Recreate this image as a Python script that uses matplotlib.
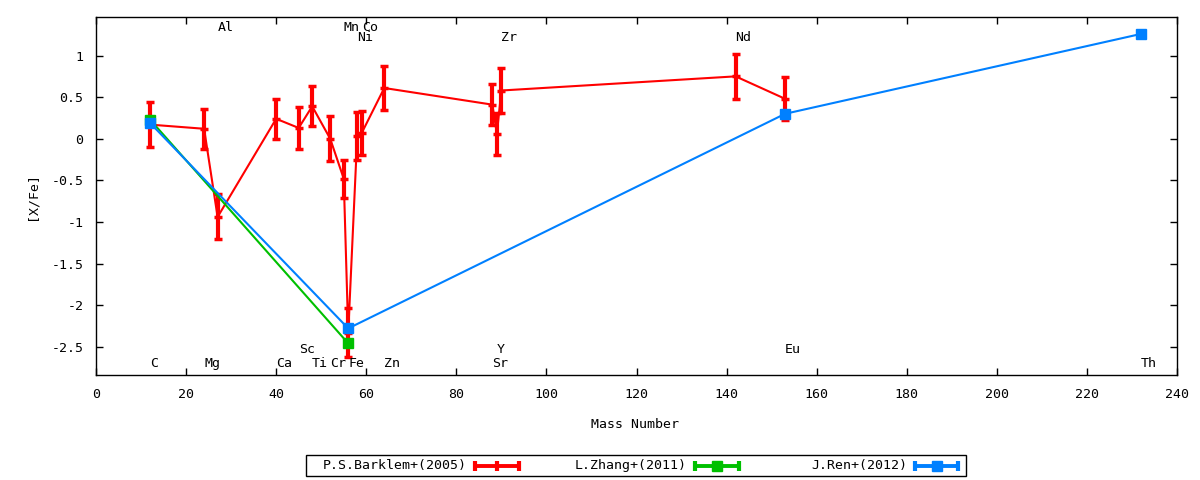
import matplotlib
matplotlib.use('Agg')
import matplotlib.pyplot as plt
from matplotlib.patches import Rectangle

plt.rcParams['font.family'] = ['DejaVu Sans Mono']
plt.rcParams['font.size'] = 9.5

# element labels: name, mass number, y position of the label
elem_names = ['C', 'Mg', 'Al', 'Ca', 'Sc', 'Ti', 'Cr', 'Mn', 'Fe', 'Co', 'Ni', 'Zn',
              'Sr', 'Y', 'Zr', 'Nd', 'Eu', 'Th']
elem_mass = [12, 24, 27, 40, 45, 48, 52, 55, 56, 59, 58, 64, 88, 89, 90, 142, 153, 232]
elem_label_y = [-2.70, -2.70, 1.34, -2.70, -2.53, -2.70, -2.70, 1.34, -2.70, 1.34, 1.22,
                -2.70, -2.70, -2.53, 1.22, 1.22, -2.53, -2.70]

# P.S.Barklem+(2005)
barklem_mass = [12, 24, 27, 40, 45, 48, 52, 55, 56, 58, 59, 64, 88, 89, 90, 142, 153]
barklem_xfe = [0.17, 0.12, -0.94, 0.24, 0.13, 0.39, 0.0, -0.48, -2.33, 0.03, 0.07, 0.61,
               0.41, 0.06, 0.58, 0.75, 0.48]
barklem_err = [0.27, 0.24, 0.27, 0.24, 0.25, 0.24, 0.27, 0.23, 0.29, 0.29, 0.26, 0.26,
               0.25, 0.25, 0.27, 0.27, 0.26]

# L.Zhang+(2011)
zhang_mass = [12, 56]
zhang_xfe = [0.23, -2.46]

# J.Ren+(2012)
ren_mass = [12, 56, 153, 232]
ren_xfe = [0.19, -2.28, 0.30, 1.26]

RED = '#ff0000'
GREEN = '#00c000'
BLUE = '#0080ff'

fig = plt.figure(figsize=(12, 4.8), dpi=100)
ax = fig.add_axes([96 / 1200, 1 - 375 / 480, (1177 - 96) / 1200, (375 - 17.3) / 480])

ax.errorbar(barklem_mass, barklem_xfe, yerr=barklem_err, color=RED, lw=1.5,
            elinewidth=3, capsize=3, capthick=2.5, marker='_', ms=6, mew=2.5, zorder=2)
ax.plot(zhang_mass, zhang_xfe, color=GREEN, lw=1.5, marker='s', ms=7, zorder=3)
ax.plot(ren_mass, ren_xfe, color=BLUE, lw=1.5, marker='s', ms=7.5, zorder=4)

for name, m, ly in zip(elem_names, elem_mass, elem_label_y):
    ax.text(m, ly, name, ha='left', va='center', fontsize=9.5)

ax.set_xlim(0, 240)
ax.set_ylim(-2.84, 1.46)
ax.set_xticks(range(0, 241, 20))
yt = [1, 0.5, 0, -0.5, -1, -1.5, -2, -2.5]
ax.set_yticks(yt)
ax.set_yticklabels(['%g' % v for v in yt])
ax.tick_params(direction='in', length=5, width=1, top=True, right=True, colors='black')
ax.tick_params(axis='x', pad=9)
ax.tick_params(axis='y', pad=9)
for s in ax.spines.values():
    s.set_linewidth(1)

fig.text(635 / 1200, 1 - 425 / 480, 'Mass Number', ha='center', va='center')
fig.text(32 / 1200, 1 - 196 / 480, '[X/Fe]', ha='center', va='center', rotation=90)

# gnuplot style key box below the plot
lax = fig.add_axes([0, 0, 1, 1], facecolor='none')
lax.set_xlim(0, 1200)
lax.set_ylim(480, 0)
lax.axis('off')
lax.add_patch(Rectangle((306, 455), 660, 21, fill=False, edgecolor='black', lw=1))
key = [('P.S.Barklem+(2005)', RED, '+', 467, 475, 519),
       ('L.Zhang+(2011)', GREEN, 's', 687, 695, 739),
       ('J.Ren+(2012)', BLUE, 's', 907, 915, 958)]
ky = 465.5
for label, c, mk, tx, x0, x1 in key:
    lax.text(tx, ky, label, ha='right', va='center')
    lax.plot([x0, x1], [ky, ky], color=c, lw=2.8)
    lax.plot([x0, x1], [ky, ky], color=c, lw=0, marker='|', ms=7, mew=3)
    if mk == '+':
        lax.plot([(x0 + x1) / 2], [ky], color=c, marker='|', ms=7, mew=3)
    else:
        lax.plot([(x0 + x1) / 2], [ky], color=c, marker='s', ms=7)

fig.savefig('out.png', dpi=100)
